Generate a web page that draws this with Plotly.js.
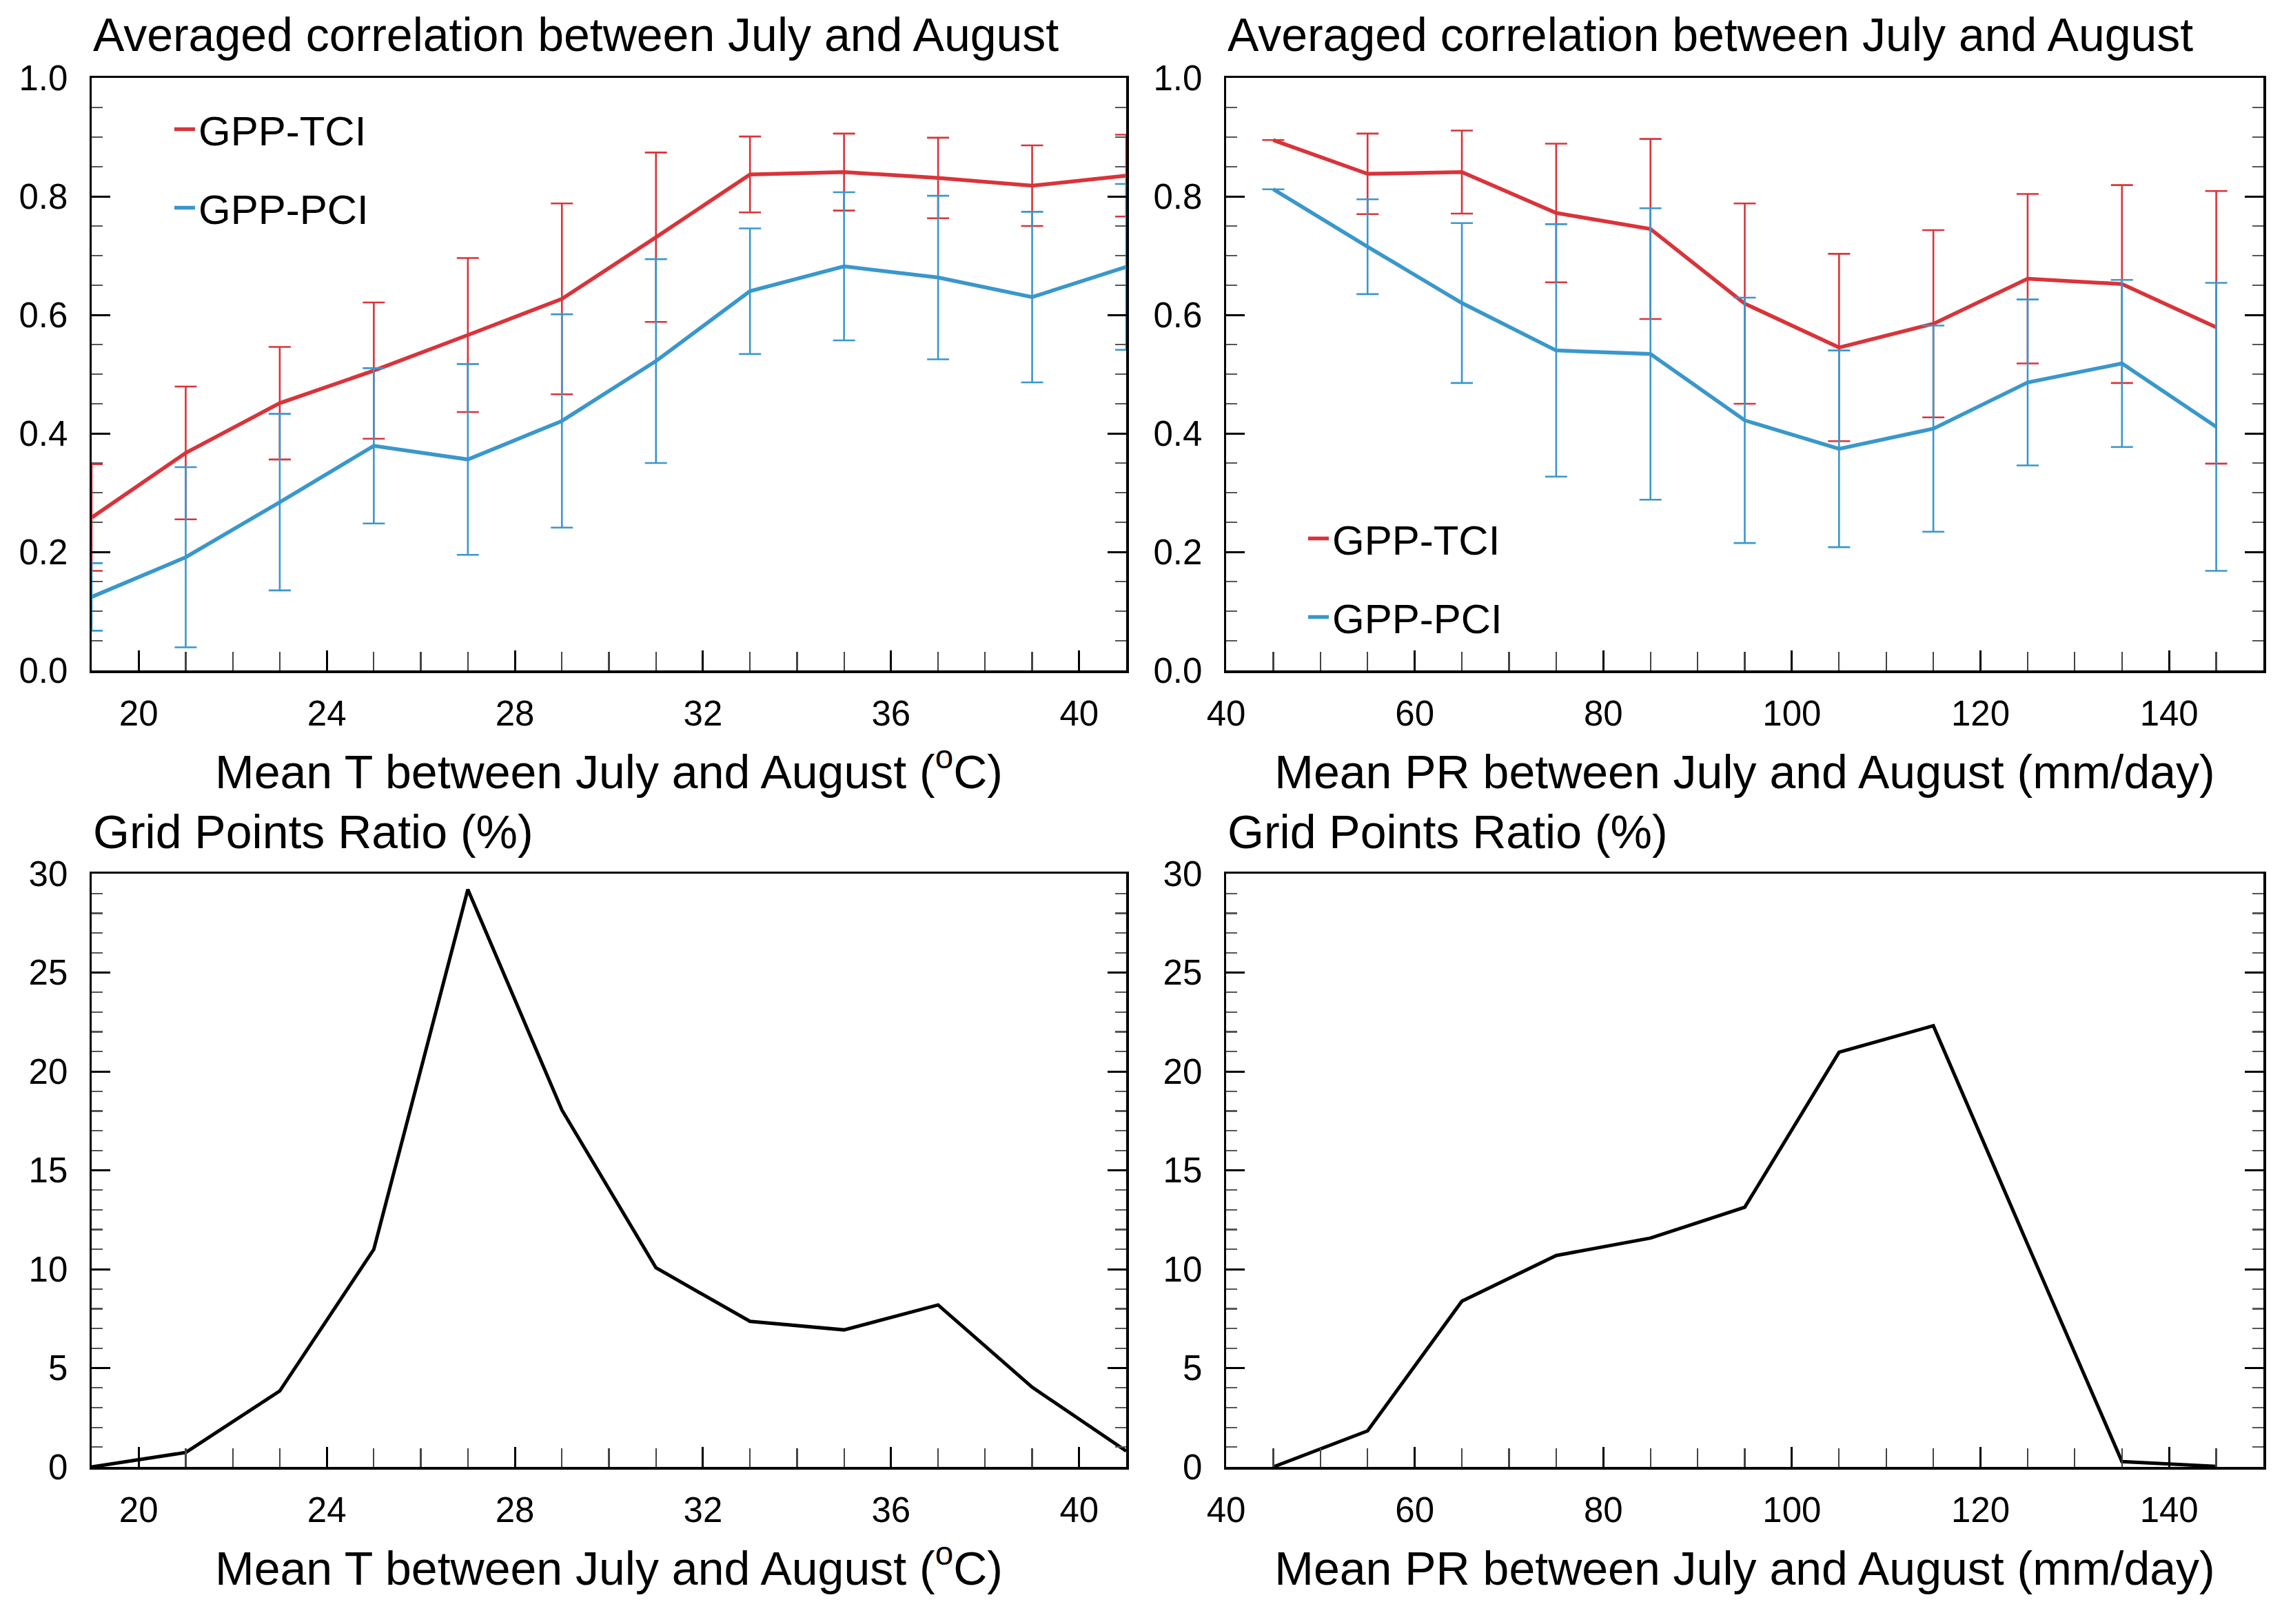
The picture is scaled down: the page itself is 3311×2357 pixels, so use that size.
<!DOCTYPE html>
<html>
<head>
<meta charset="utf-8">
<script src="https://cdn.plot.ly/plotly-3.0.1.min.js"></script>
<style>html,body{margin:0;padding:0;background:#fff;}#chart{width:3311px;height:2357px;}</style>
</head>
<body>
<div id="chart"></div>
<script>
// ---------- data ----------
const tempX = [19, 21, 23, 25, 27, 29, 31, 33, 35, 37, 39, 41];
const tciByT = [0.258, 0.367, 0.451, 0.506, 0.566, 0.627, 0.731, 0.837, 0.841, 0.831, 0.818, 0.835];
const tciByTErr = [0.090, 0.112, 0.095, 0.115, 0.130, 0.161, 0.143, 0.064, 0.065, 0.068, 0.068, 0.069];
const pciByT = [0.124, 0.191, 0.284, 0.379, 0.356, 0.421, 0.522, 0.640, 0.682, 0.663, 0.630, 0.681];
const pciByTErr = [0.057, 0.152, 0.149, 0.131, 0.161, 0.180, 0.172, 0.106, 0.125, 0.138, 0.144, 0.140];

const prX = [45, 55, 65, 75, 85, 95, 105, 115, 125, 135, 145];
const tciByP = [0.895, 0.838, 0.841, 0.772, 0.745, 0.619, 0.545, 0.585, 0.661, 0.652, 0.579];
const tciByPErr = [0.0, 0.068, 0.070, 0.117, 0.152, 0.169, 0.158, 0.158, 0.143, 0.167, 0.230];
const pciByP = [0.812, 0.715, 0.620, 0.540, 0.534, 0.422, 0.374, 0.408, 0.486, 0.518, 0.411];
const pciByPErr = [0.0, 0.080, 0.135, 0.213, 0.246, 0.207, 0.166, 0.174, 0.140, 0.141, 0.243];

const ratioByT = [0.0, 0.73, 3.84, 11.0, 29.2, 18.05, 10.07, 7.36, 6.93, 8.19, 4.03, 0.8];
const ratioByP = [0.0, 1.82, 8.38, 10.69, 11.57, 13.13, 20.97, 22.31, 11.25, 0.27, 0.03];

const tTickVals = [20, 24, 28, 32, 36, 40];
const pTickVals = [40, 60, 80, 100, 120, 140];
const corrTickVals = [0, 0.2, 0.4, 0.6, 0.8, 1.0];
const ratioTickVals = [0, 5, 10, 15, 20, 25, 30];

const seriesNames = ['GPP-TCI', 'GPP-PCI'];
const titleTop = 'Averaged correlation between July and August';
const titleBottom = 'Grid Points Ratio (%)';
const xTitleT = 'Mean T between July and August (<sup>o</sup>C)';
const xTitleP = 'Mean PR between July and August (mm/day)';

// ---------- style ----------
const RED = '#D8343A';
const BLUE = '#3A97CB';
const FONT = 'Liberation Sans, Arial, Helvetica, sans-serif';
const W = 3311, H = 2357;
const px = v => v / W;
const py = v => 1 - v / H;

function lineTrace(x, y, err, color, name, xa, ya, legend, group) {
  return {
    type: 'scatter', mode: 'lines', x: x, y: y, name: name,
    xaxis: xa, yaxis: ya, legend: legend, legendgroup: group,
    line: {color: color, width: 5.5},
    error_y: {type: 'data', array: err, visible: true, color: color, thickness: 2.6, width: 16}
  };
}

const traces = [
  lineTrace(tempX, tciByT, tciByTErr, RED, seriesNames[0], 'x', 'y', 'legend', 'a'),
  lineTrace(tempX, pciByT, pciByTErr, BLUE, seriesNames[1], 'x', 'y', 'legend', 'b'),
  lineTrace(prX, tciByP, tciByPErr, RED, seriesNames[0], 'x2', 'y2', 'legend2', 'c'),
  lineTrace(prX, pciByP, pciByPErr, BLUE, seriesNames[1], 'x2', 'y2', 'legend2', 'd'),
  {type: 'scatter', mode: 'lines', x: tempX, y: ratioByT, xaxis: 'x3', yaxis: 'y3',
   showlegend: false, line: {color: '#000', width: 5}},
  {type: 'scatter', mode: 'lines', x: prX, y: ratioByP, xaxis: 'x4', yaxis: 'y4',
   showlegend: false, line: {color: '#000', width: 5}}
];

const xLeft = [px(133), px(1634)];
const xRight = [px(1779), px(3284)];
const yTop = [py(973), py(113)];
const yBottom = [py(2129), py(1268)];

function xAxis(domain, range, tickvals, minorD, anchor, title) {
  return {
    domain: domain, range: range, anchor: anchor,
    tickmode: 'array', tickvals: tickvals,
    ticks: 'inside', ticklen: 29, tickwidth: 3, tickcolor: '#000',
    minor: {dtick: minorD, ticks: 'inside', ticklen: 27, tickwidth: 2.2, tickcolor: '#444'},
    showline: true, linewidth: 3.5, linecolor: '#000', mirror: true,
    showgrid: false, zeroline: false,
    tickfont: {family: FONT, size: 51, color: '#000'},
    ticklabelstandoff: 15,
    title: {text: title, font: {family: FONT, size: 68, color: '#000'}, standoff: 34}
  };
}
function yAxis(domain, range, tickvals, minorD, anchor, fmt) {
  return {
    domain: domain, range: range, anchor: anchor,
    tickmode: 'array', tickvals: tickvals, tickformat: fmt,
    ticks: 'inside', ticklen: 27, tickwidth: 3, tickcolor: '#000',
    minor: {dtick: minorD, ticks: 'inside', ticklen: 16, tickwidth: 2.2, tickcolor: '#555'},
    showline: true, linewidth: 3.5, linecolor: '#000', mirror: 'ticks',
    showgrid: false, zeroline: false,
    tickfont: {family: FONT, size: 51, color: '#000'},
    ticklabelstandoff: 21
  };
}

function subTitle(text, xPix, yPix) {
  return {text: text, xref: 'paper', yref: 'paper', x: px(xPix), y: py(yPix),
    xanchor: 'left', yanchor: 'middle', showarrow: false,
    font: {family: FONT, size: 68, color: '#000'}};
}

const legendBase = {
  xanchor: 'left', yanchor: 'top', bgcolor: 'rgba(0,0,0,0)', borderwidth: 0,
  font: {family: FONT, size: 60, color: '#000'}, tracegroupgap: 33, orientation: 'v'
};

const layout = {
  width: W, height: H,
  margin: {l: 0, r: 0, t: 0, b: 0},
  paper_bgcolor: '#fff', plot_bgcolor: '#fff',
  font: {family: FONT, color: '#000'},
  showlegend: true,
  xaxis: xAxis(xLeft, [19, 41], tTickVals, 1, 'y', xTitleT),
  yaxis: yAxis(yTop, [0, 1], corrTickVals, 0.05, 'x', '.1f'),
  xaxis2: xAxis(xRight, [40, 150], pTickVals, 5, 'y2', xTitleP),
  yaxis2: yAxis(yTop, [0, 1], corrTickVals, 0.05, 'x2', '.1f'),
  xaxis3: xAxis(xLeft, [19, 41], tTickVals, 1, 'y3', xTitleT),
  yaxis3: yAxis(yBottom, [0, 30], ratioTickVals, 1, 'x3', 'd'),
  xaxis4: xAxis(xRight, [40, 150], pTickVals, 5, 'y4', xTitleP),
  yaxis4: yAxis(yBottom, [0, 30], ratioTickVals, 1, 'x4', 'd'),
  legend: Object.assign({}, legendBase, {x: px(248), y: py(142)}),
  legend2: Object.assign({}, legendBase, {x: px(1893), y: py(736)}),
  annotations: [
    subTitle(titleTop, 133, 50),
    subTitle(titleTop, 1779, 50),
    subTitle(titleBottom, 133, 1207),
    subTitle(titleBottom, 1779, 1207)
  ]
};

Plotly.newPlot('chart', traces, layout, {staticPlot: true, displayModeBar: false});
</script>
</body>
</html>
